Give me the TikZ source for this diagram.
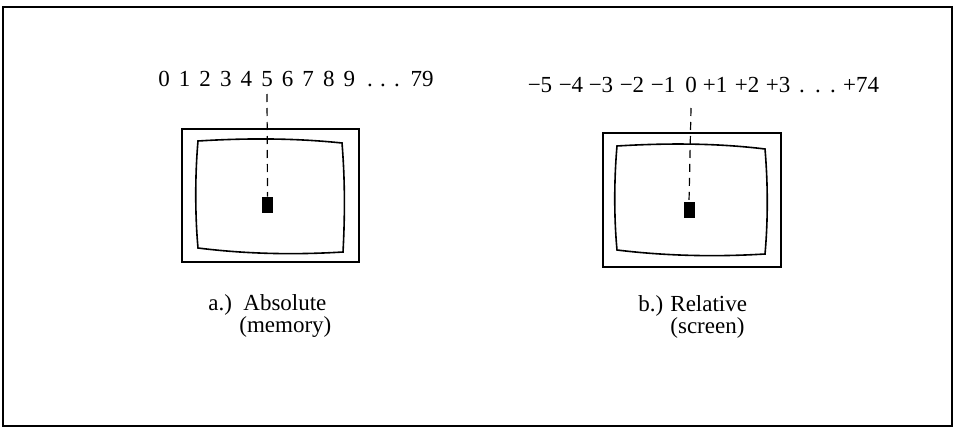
\documentclass[tikz,border=0pt]{standalone}
\usepackage{fontspec}
\setmainfont{Liberation Serif}
\usetikzlibrary{positioning, calc}

\begin{document}
\begin{tikzpicture}[
    x=0.5pt, y=-0.5pt,
    num/.style={font=\fontsize{11.5}{13}\selectfont, inner sep=0pt, anchor=base},
    lbl/.style={font=\fontsize{11.5}{13}\selectfont, inner sep=0pt, anchor=base west},
    case/.style={line width=1pt},
    tube/.style={line width=0.8pt},
    guide/.style={line width=0.6pt, dash pattern=on 4pt off 3pt},
    cursor/.style={fill=black, draw=none, inner sep=0pt, minimum width=5.5pt, minimum height=8pt},
]
    \useasboundingbox (0,0) rectangle (956,433);

    % Outer frame
    \draw[line width=1.2pt] (3,7) rectangle (952,426);

    % a.) Absolute: column numbers
    \foreach \n [count=\i from 0] in {0,...,9}
        \node[num] (a\n) at (164+20.6*\i, 86) {\n};
    \foreach \x [count=\i] in {370,383,397}
        \node[num] (adot\i) at (\x, 86) {.};
    \node[num] (a79) at (422, 86) {79};

    % Monitor a
    \draw[case] (182,129) rectangle (359,262);
    \draw[tube] (198,141) .. controls (246,138) and (294,138) .. (342,143)
        .. controls (345,180) and (345,215) .. (343,252)
        .. controls (294,255) and (246,254) .. (198,248)
        .. controls (195,215) and (195,175) .. cycle;
    \node[cursor] (curA) at (267.5,205) {};
    \draw[guide] ($(a5.base)+(0,8)$) -- (curA.north);

    % b.) Relative: column numbers
    \foreach \x/\t [count=\i] in {540/−5, 571/−4, 601/−3, 632/−2, 663/−1, 691/0, 715/+1, 747/+2, 778/+3}
        \node[num] (b\i) at (\x, 92) {\t};
    \foreach \x [count=\i] in {802,818,833}
        \node[num] (bdot\i) at (\x, 92) {.};
    \node[num] (b74) at (861, 92) {+74};

    % Monitor b
    \draw[case] (603,133) rectangle (781,267);
    \draw[tube] (617,146) .. controls (666,143) and (716,143) .. (765,149)
        .. controls (768,185) and (768,220) .. (765,254)
        .. controls (716,257) and (666,256) .. (617,250)
        .. controls (614,218) and (614,180) .. cycle;
    \node[cursor] (curB) at (689,210) {};
    \draw[guide] ($(b6.base)+(0,16)$) -- (curB.north);

    % Captions
    \node[lbl] (capA) at (208,310) {a.)};
    \node[lbl] (capAa) at (243,310) {Absolute};
    \node[lbl] (capAb) at (239,332) {(memory)};
    \node[lbl] (capB) at (638,311) {b.)};
    \node[lbl] (capBa) at (670,311) {Relative};
    \node[lbl] (capBb) at (670,333) {(screen)};
\end{tikzpicture}
\end{document}
